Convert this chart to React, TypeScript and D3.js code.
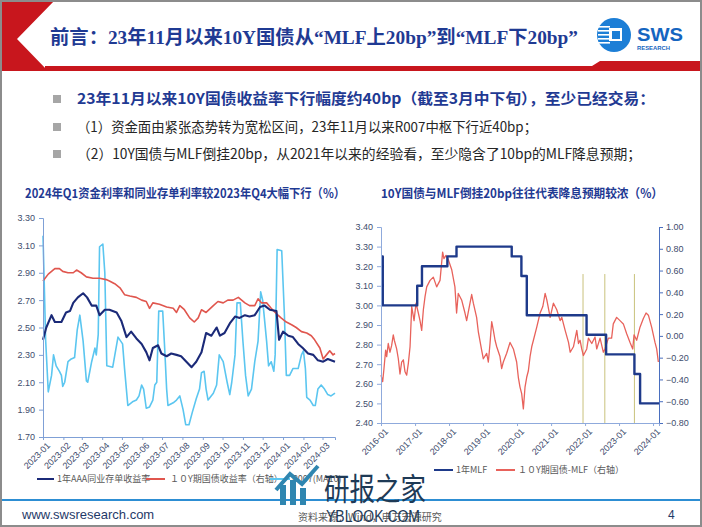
import React, { useEffect, useRef } from 'react';
import * as d3 from 'd3';

// ---- left chart: 2023-01 .. 2024-03 (%)
const ncdAAA: [string, number][] = [
  ['2023-01-01', 2.41], ['2023-01-06', 2.50], ['2023-01-14', 2.59], ['2023-01-19', 2.54],
  ['2023-01-29', 2.54], ['2023-02-05', 2.61], ['2023-02-11', 2.62], ['2023-02-16', 2.68],
  ['2023-02-23', 2.72], ['2023-03-03', 2.75], ['2023-03-09', 2.72], ['2023-03-16', 2.66],
  ['2023-03-23', 2.66], ['2023-03-28', 2.59], ['2023-04-05', 2.63], ['2023-04-12', 2.63],
  ['2023-04-23', 2.61], ['2023-04-30', 2.55], ['2023-05-08', 2.43], ['2023-05-15', 2.47],
  ['2023-05-23', 2.42], ['2023-05-31', 2.38], ['2023-06-07', 2.32], ['2023-06-12', 2.26],
  ['2023-06-17', 2.35], ['2023-06-25', 2.37], ['2023-06-30', 2.31], ['2023-07-08', 2.29],
  ['2023-07-15', 2.31], ['2023-07-23', 2.30], ['2023-07-30', 2.29], ['2023-08-07', 2.25],
  ['2023-08-15', 2.21], ['2023-08-22', 2.25], ['2023-08-30', 2.32], ['2023-09-06', 2.46],
  ['2023-09-14', 2.44], ['2023-09-22', 2.50], ['2023-09-27', 2.44], ['2023-10-04', 2.46],
  ['2023-10-12', 2.53], ['2023-10-20', 2.58], ['2023-10-27', 2.57], ['2023-11-04', 2.59],
  ['2023-11-11', 2.58], ['2023-11-19', 2.59], ['2023-11-27', 2.65], ['2023-12-04', 2.66],
  ['2023-12-12', 2.63], ['2023-12-22', 2.62], ['2023-12-26', 2.41], ['2024-01-01', 2.47],
  ['2024-01-09', 2.44], ['2024-01-16', 2.43], ['2024-01-24', 2.38], ['2024-01-31', 2.35],
  ['2024-02-08', 2.31], ['2024-02-16', 2.30], ['2024-02-23', 2.26], ['2024-03-02', 2.25],
  ['2024-03-09', 2.27], ['2024-03-20', 2.25],
];

const cgb10y: [string, number][] = [
  ['2023-01-01', 2.84], ['2023-01-09', 2.89], ['2023-01-19', 2.93], ['2023-01-26', 2.93],
  ['2023-01-31', 2.91], ['2023-02-08', 2.90], ['2023-02-16', 2.90], ['2023-02-21', 2.92],
  ['2023-02-28', 2.90], ['2023-03-08', 2.87], ['2023-03-18', 2.86], ['2023-03-28', 2.86],
  ['2023-04-07', 2.85], ['2023-04-12', 2.84], ['2023-04-20', 2.82], ['2023-04-28', 2.79],
  ['2023-05-05', 2.74], ['2023-05-13', 2.73], ['2023-05-23', 2.72], ['2023-05-31', 2.70],
  ['2023-06-07', 2.69], ['2023-06-12', 2.64], ['2023-06-17', 2.68], ['2023-06-27', 2.67],
  ['2023-07-08', 2.65], ['2023-07-18', 2.64], ['2023-07-23', 2.61], ['2023-07-28', 2.66],
  ['2023-08-04', 2.63], ['2023-08-12', 2.57], ['2023-08-19', 2.54], ['2023-08-25', 2.57],
  ['2023-08-30', 2.63], ['2023-09-06', 2.61], ['2023-09-17', 2.66], ['2023-09-24', 2.69],
  ['2023-10-02', 2.68], ['2023-10-09', 2.70], ['2023-10-17', 2.70], ['2023-10-25', 2.72],
  ['2023-11-04', 2.68], ['2023-11-11', 2.66], ['2023-11-19', 2.66], ['2023-11-24', 2.71],
  ['2023-11-29', 2.68], ['2023-12-07', 2.68], ['2023-12-14', 2.64], ['2023-12-22', 2.60],
  ['2023-12-29', 2.57], ['2024-01-06', 2.54], ['2024-01-14', 2.52], ['2024-01-21', 2.50],
  ['2024-01-29', 2.47], ['2024-02-06', 2.46], ['2024-02-13', 2.44], ['2024-02-18', 2.41],
  ['2024-02-26', 2.35], ['2024-03-02', 2.27], ['2024-03-07', 2.30], ['2024-03-12', 2.33],
  ['2024-03-17', 2.30], ['2024-03-20', 2.31],
];

const r007: [string, number][] = [
  ['2023-01-01', 3.17], ['2023-01-03', 2.80], ['2023-01-05', 2.41], ['2023-01-09', 2.03],
  ['2023-01-14', 2.15], ['2023-01-17', 2.30], ['2023-01-21', 2.22], ['2023-01-26', 2.18],
  ['2023-01-29', 2.15], ['2023-01-31', 2.07], ['2023-02-03', 2.10], ['2023-02-08', 2.25],
  ['2023-02-13', 2.27], ['2023-02-18', 2.28], ['2023-02-22', 2.48], ['2023-02-26', 2.59],
  ['2023-03-03', 2.40], ['2023-03-08', 2.11], ['2023-03-10', 2.10], ['2023-03-16', 2.25],
  ['2023-03-21', 2.35], ['2023-03-23', 2.30], ['2023-03-26', 2.45], ['2023-03-28', 3.09],
  ['2023-04-02', 3.11], ['2023-04-05', 2.90], ['2023-04-08', 2.22], ['2023-04-17', 2.21],
  ['2023-04-25', 2.43], ['2023-05-02', 2.38], ['2023-05-05', 2.20], ['2023-05-10', 1.93],
  ['2023-05-18', 1.96], ['2023-05-23', 1.97], ['2023-05-27', 2.00], ['2023-05-31', 2.08],
  ['2023-06-03', 2.05], ['2023-06-07', 1.91], ['2023-06-12', 1.92], ['2023-06-17', 1.97],
  ['2023-06-20', 2.08], ['2023-06-23', 2.10], ['2023-06-26', 2.62], ['2023-07-02', 2.62],
  ['2023-07-05', 2.35], ['2023-07-08', 2.05], ['2023-07-10', 1.93], ['2023-07-18', 1.95],
  ['2023-07-23', 1.97], ['2023-07-28', 2.00], ['2023-08-02', 1.90], ['2023-08-06', 1.79],
  ['2023-08-11', 1.79], ['2023-08-16', 1.88], ['2023-08-22', 1.98], ['2023-08-27', 2.05],
  ['2023-08-30', 2.17], ['2023-09-03', 2.18], ['2023-09-06', 2.05], ['2023-09-09', 1.97],
  ['2023-09-17', 2.02], ['2023-09-22', 2.08], ['2023-09-26', 2.30], ['2023-10-02', 2.25],
  ['2023-10-08', 2.10], ['2023-10-12', 2.01], ['2023-10-15', 2.10], ['2023-10-20', 2.30],
  ['2023-10-23', 2.68], ['2023-10-28', 2.68], ['2023-11-01', 2.40], ['2023-11-05', 2.15],
  ['2023-11-09', 2.00], ['2023-11-14', 2.05], ['2023-11-19', 2.25], ['2023-11-24', 2.40],
  ['2023-11-28', 2.76], ['2023-12-01', 2.70], ['2023-12-07', 2.40], ['2023-12-10', 2.22],
  ['2023-12-14', 2.25], ['2023-12-18', 2.18], ['2023-12-20', 2.30], ['2023-12-23', 3.07],
  ['2023-12-30', 3.06], ['2024-01-03', 2.60], ['2024-01-06', 2.15], ['2024-01-11', 2.15],
  ['2024-01-16', 2.20], ['2024-01-24', 2.20], ['2024-01-29', 2.30], ['2024-02-01', 2.33],
  ['2024-02-04', 2.20], ['2024-02-06', 1.99], ['2024-02-11', 1.97], ['2024-02-16', 1.93],
  ['2024-02-19', 1.93], ['2024-02-23', 2.05], ['2024-02-28', 2.08], ['2024-03-04', 2.05],
  ['2024-03-09', 2.01], ['2024-03-14', 2.00], ['2024-03-20', 2.02],
];

const leftTicks = [1.7, 1.9, 2.1, 2.3, 2.5, 2.7, 2.9, 3.1, 3.3];

// ---- right chart: 2016-01 .. 2024-03
const mlf1y: [string, number][] = [
  ['2016-01-01', 3.25], ['2016-01-20', 3.00], ['2017-01-24', 3.10], ['2017-03-16', 3.20],
  ['2017-12-14', 3.25], ['2018-03-22', 3.30], ['2019-11-05', 3.25], ['2020-02-17', 3.15],
  ['2020-04-15', 2.95], ['2022-01-17', 2.85], ['2022-08-15', 2.75], ['2023-06-15', 2.65],
  ['2023-08-15', 2.50], ['2024-03-05', 2.50],
];

const spread: [string, number][] = [
  ['2016-01-01', -0.36], ['2016-01-19', -0.42], ['2016-02-02', -0.30], ['2016-02-20', -0.13],
  ['2016-03-02', -0.19], ['2016-03-19', -0.07], ['2016-04-06', -0.15], ['2016-04-24', -0.09],
  ['2016-05-12', 0.01], ['2016-05-23', -0.04], ['2016-06-17', -0.12], ['2016-07-05', -0.21],
  ['2016-07-23', -0.35], ['2016-08-10', -0.24], ['2016-08-28', -0.22], ['2016-09-15', -0.33],
  ['2016-10-03', -0.36], ['2016-10-21', -0.25], ['2016-11-08', -0.10], ['2016-11-26', 0.27],
  ['2016-12-21', 0.14], ['2017-01-11', 0.30], ['2017-02-05', 0.21], ['2017-02-23', 0.14],
  ['2017-03-13', 0.05], ['2017-03-31', 0.24], ['2017-04-18', 0.36], ['2017-05-06', 0.45],
  ['2017-06-11', 0.51], ['2017-07-16', 0.54], ['2017-08-21', 0.45], ['2017-09-26', 0.51],
  ['2017-10-24', 0.77], ['2017-11-07', 0.71], ['2017-11-29', 0.74], ['2017-12-24', 0.70],
  ['2018-01-29', 0.61], ['2018-03-05', 0.45], ['2018-03-23', 0.21], ['2018-04-10', 0.39],
  ['2018-05-16', 0.33], ['2018-06-21', 0.21], ['2018-07-09', 0.14], ['2018-08-14', 0.30],
  ['2018-09-01', 0.38], ['2018-09-19', 0.30], ['2018-10-24', 0.17], ['2018-11-11', 0.04],
  ['2018-12-17', -0.13], ['2019-01-04', -0.21], ['2019-02-09', -0.16], ['2019-02-27', -0.24],
  ['2019-03-17', -0.07], ['2019-04-04', 0.13], ['2019-04-22', 0.05], ['2019-05-10', -0.04],
  ['2019-05-28', -0.10], ['2019-07-02', -0.19], ['2019-07-20', -0.30], ['2019-08-07', -0.24],
  ['2019-09-12', -0.16], ['2019-10-18', -0.06], ['2019-11-05', -0.09], ['2019-11-23', -0.12],
  ['2019-12-28', -0.24], ['2020-01-15', -0.38], ['2020-02-02', -0.47], ['2020-02-20', -0.53],
  ['2020-03-09', -0.67], ['2020-03-27', -0.47], ['2020-04-14', -0.38], ['2020-05-02', -0.32],
  ['2020-05-20', -0.19], ['2020-06-07', -0.10], ['2020-06-25', -0.04], ['2020-07-31', 0.08],
  ['2020-09-05', 0.21], ['2020-10-04', 0.27], ['2020-10-29', 0.39], ['2020-11-16', 0.33],
  ['2020-12-22', 0.17], ['2021-01-26', 0.30], ['2021-03-03', 0.24], ['2021-04-08', 0.14],
  ['2021-04-26', 0.17], ['2021-06-01', 0.05], ['2021-07-07', -0.06], ['2021-07-25', -0.15],
  ['2021-08-29', -0.10], ['2021-10-04', 0.05], ['2021-10-22', -0.07], ['2021-11-08', -0.04],
  ['2021-11-26', -0.12], ['2021-12-14', -0.18], ['2022-01-19', -0.12], ['2022-02-06', -0.02],
  ['2022-03-14', -0.07], ['2022-04-18', -0.01], ['2022-05-06', -0.12], ['2022-06-11', -0.02],
  ['2022-07-16', -0.15], ['2022-08-03', -0.12], ['2022-09-08', -0.02], ['2022-10-13', -0.02],
  ['2022-10-31', 0.11], ['2022-12-06', 0.17], ['2023-01-11', 0.14], ['2023-02-16', 0.11],
  ['2023-03-24', 0.02], ['2023-04-29', -0.06], ['2023-05-28', -0.12], ['2023-06-11', 0.01],
  ['2023-07-09', -0.04], ['2023-08-14', 0.08], ['2023-09-19', 0.16], ['2023-10-18', 0.21],
  ['2023-11-12', 0.19], ['2023-12-17', 0.08], ['2024-01-22', -0.06], ['2024-02-09', -0.12],
  ['2024-02-27', -0.24],
];

const markerDates = ['2021-12-10', '2022-08-01', '2023-06-15'];
const rightLeftTicks = [2.4, 2.5, 2.6, 2.7, 2.8, 2.9, 3.0, 3.1, 3.2, 3.3, 3.4];
const rightRightTicks = [-0.8, -0.6, -0.4, -0.2, 0, 0.2, 0.4, 0.6, 0.8, 1.0];

const cjk = "'Noto Sans CJK SC', 'Noto Sans', sans-serif";
const latin = "'Liberation Sans', Arial, sans-serif";
const navyText = '#1F3A93';

const parse = d3.timeParse('%Y-%m-%d');

export default function App() {
  const ref = useRef<SVGSVGElement>(null);

  useEffect(() => {
    const svg = d3.select(ref.current);
    svg.selectAll('.chart').remove();

    const styleAxis = (g: any, color: string) => {
      g.select('.domain').attr('stroke', color).attr('stroke-width', 1);
      g.selectAll('.tick line').attr('stroke', color);
      g.selectAll('.tick text')
          .attr('fill', '#3E4C6D')
          .style('font-family', latin)
          .style('font-size', '9px');
    };

    const drawLine = (g: any, data: [string, number][], x: any, y: any,
        color: string, w: number, curve: any = d3.curveLinear) => {
      const line = d3.line<[string, number]>()
          .x((d) => x(parse(d[0])))
          .y((d) => y(d[1]))
          .curve(curve);
      g.append('path')
          .attr('d', line(data))
          .attr('fill', 'none')
          .attr('stroke', color)
          .attr('stroke-width', w)
          .attr('stroke-linejoin', 'round');
    };

    // ===== left chart
    const L = svg.append('g').attr('class', 'chart');
    const x1 = d3.scaleTime()
        .domain([parse('2023-01-01')!, parse('2024-03-20')!])
        .range([43, 335]);
    const y1 = d3.scaleLinear().domain([1.7, 3.3]).range([437, 218]);

    drawLine(L, r007, x1, y1, '#5BC6F0', 1.6);
    drawLine(L, cgb10y, x1, y1, '#E0564E', 1.6);
    drawLine(L, ncdAAA, x1, y1, '#1B2A78', 2.1);

    const ly = L.append('g').attr('transform', 'translate(43,0)')
        .call(d3.axisLeft(y1).tickValues(leftTicks).tickSize(4).tickPadding(4)
            .tickFormat(d3.format('.2f')));
    styleAxis(ly, '#7FA0D6');

    const months = d3.timeMonth.range(parse('2023-01-01')!, parse('2024-03-02')!);
    const lx = L.append('g').attr('transform', 'translate(0,437)')
        .call(d3.axisBottom(x1).tickValues(months).tickSize(3)
            .tickFormat(d3.timeFormat('%Y-%m') as any));
    styleAxis(lx, '#7FA0D6');
    lx.selectAll('.tick text')
        .attr('text-anchor', 'end')
        .attr('dy', 0)
        .attr('transform', 'translate(3,5) rotate(-45)');

    // ===== right chart
    const R = svg.append('g').attr('class', 'chart');
    const x2 = d3.scaleTime()
        .domain([parse('2016-01-01')!, parse('2024-03-05')!])
        .range([381, 659]);
    const y2 = d3.scaleLinear().domain([2.4, 3.4]).range([423, 227]);
    const y3 = d3.scaleLinear().domain([-0.8, 1.0]).range([423, 227]);

    markerDates.forEach((d) => {
      R.append('line')
          .attr('x1', x2(parse(d)!)).attr('x2', x2(parse(d)!))
          .attr('y1', y2(3.16)).attr('y2', y2(2.4))
          .attr('stroke', '#C9C27C').attr('stroke-width', 1);
    });

    drawLine(R, spread, x2, y3, '#E8625B', 1.3);
    drawLine(R, mlf1y, x2, y2, '#1E3A8A', 2.4, d3.curveStepAfter);

    const ry = R.append('g').attr('transform', 'translate(381,0)')
        .call(d3.axisLeft(y2).tickValues(rightLeftTicks).tickSize(4).tickPadding(4)
            .tickFormat(d3.format('.2f')));
    styleAxis(ry, '#8FAADC');

    const rr = R.append('g').attr('transform', 'translate(659,0)')
        .call(d3.axisRight(y3).tickValues(rightRightTicks).tickSize(4).tickPadding(3)
            .tickFormat(d3.format('.2f')));
    styleAxis(rr, '#4A6FBF');

    const years = d3.timeYear.range(parse('2016-01-01')!, parse('2024-01-02')!);
    const rx = R.append('g').attr('transform', 'translate(0,423)')
        .call(d3.axisBottom(x2).tickValues(years).tickSize(3)
            .tickFormat(d3.timeFormat('%Y-%m') as any));
    styleAxis(rx, '#8FAADC');
    rx.selectAll('.tick text')
        .attr('text-anchor', 'end')
        .attr('dy', 0)
        .attr('transform', 'translate(3,5) rotate(-45)');
  }, []);

  const bullet = (y: number) => (
    <rect x={53} y={y - 4} width={8} height={8} fill="#A6A6A6" />
  );

  return (
    <div style={{ position: 'fixed', left: 0, top: 0 }}>
      <svg ref={ref} width={702} height={527} style={{ display: 'block', background: '#fff' }}>
        {/* header */}
        <polygon points="0,0 55,0 17,39 48,71 0,71" fill="#C8161D" />
        <polygon points="45,66 592,66 600,61 702,61 702,71 45,71" fill="#C8161D" />
        <text x={50} y={44} fontSize={19} fontWeight="bold" fill={navyText}
          fontFamily={"'Liberation Serif', 'Noto Sans CJK SC', serif"}
          textLength={528} lengthAdjust="spacingAndGlyphs">
          前言：23年11月以来10Y国债从“MLF上20bp”到“MLF下20bp”
        </text>

        {/* logo */}
        <circle cx={614} cy={35} r={17} fill="#1C7ED6" />
        {[26, 30, 34, 38, 42].map((yy) => (
          <rect key={yy} x={598} y={yy} width={12} height={1.6} fill="#fff" />
        ))}
        <rect x={609} y={28} width={13} height={13} fill="#fff" />
        <rect x={612} y={31} width={8} height={8} fill="#1C7ED6" />
        <text x={637} y={41} fontSize={19} fontWeight="bold" fill="#1565C0"
          fontFamily={latin} textLength={46} lengthAdjust="spacingAndGlyphs">SWS</text>
        <text x={637} y={50} fontSize={5.5} fontWeight="bold" fill="#1565C0"
          fontFamily={latin} textLength={33} lengthAdjust="spacingAndGlyphs">RESEARCH</text>

        {/* bullets */}
        {bullet(99)}
        {bullet(127)}
        {bullet(154)}
        <text x={77} y={104} fontSize={15} fontWeight="bold" fill={navyText}
          fontFamily={cjk} textLength={578} lengthAdjust="spacingAndGlyphs">
          23年11月以来10Y国债收益率下行幅度约40bp（截至3月中下旬），至少已经交易：
        </text>
        <text x={77} y={132} fontSize={14} fill="#262626"
          fontFamily={cjk} textLength={460} lengthAdjust="spacingAndGlyphs">
          （1）资金面由紧张态势转为宽松区间，23年11月以来R007中枢下行近40bp；
        </text>
        <text x={77} y={159} fontSize={14} fill="#262626"
          fontFamily={cjk} textLength={564} lengthAdjust="spacingAndGlyphs">
          （2）10Y国债与MLF倒挂20bp，从2021年以来的经验看，至少隐含了10bp的MLF降息预期；
        </text>

        {/* chart titles */}
        <text x={25} y={198} fontSize={12.5} fontWeight="bold" fill={navyText}
          fontFamily={cjk} textLength={320} lengthAdjust="spacingAndGlyphs">
          2024年Q1资金利率和同业存单利率较2023年Q4大幅下行（%）
        </text>
        <text x={381} y={198} fontSize={12.5} fontWeight="bold" fill={navyText}
          fontFamily={cjk} textLength={282} lengthAdjust="spacingAndGlyphs">
          10Y国债与MLF倒挂20bp往往代表降息预期较浓（%）
        </text>

        {/* left legend */}
        <g fontFamily={cjk} fontSize={9} fill="#595959">
          <line x1={37} x2={54} y1={479} y2={479} stroke="#1B2A78" strokeWidth={2} />
          <text x={57} y={482}>1年AAA同业存单收益率</text>
          <line x1={146} x2={165} y1={479} y2={479} stroke="#E0564E" strokeWidth={2} />
          <text x={170} y={482}>１０Y期国债收益率（右轴）</text>
          <line x1={270} x2={290} y1={479} y2={479} stroke="#5BC6F0" strokeWidth={2} />
          <text x={292} y={482}>R007(MA10)</text>
        </g>

        {/* right legend */}
        <g fontFamily={cjk} fontSize={9} fill="#595959">
          <line x1={434} x2={453} y1={470} y2={470} stroke="#1E3A8A" strokeWidth={2} />
          <text x={456} y={473}>1年MLF</text>
          <line x1={496} x2={515} y1={470} y2={470} stroke="#E8625B" strokeWidth={2} />
          <text x={518} y={473}>１０Y期国债-MLF（右轴）</text>
        </g>

        {/* footer */}
        <line x1={0} x2={702} y1={500} y2={500} stroke="#2D8ED3" strokeWidth={2} />
        <text x={22} y={519} fontSize={13} fill="#1F3A68" fontFamily={latin}>www.swsresearch.com</text>
        <text x={668} y={519} fontSize={12} fill="#1F3A68" fontFamily={latin}>4</text>
        <text x={298} y={521} fontSize={10} fill="#595959" fontFamily={cjk}>资料来源：Wind，申万宏源研究</text>

        {/* watermark */}
        <g fill="#2F86B0">
          <rect x={280} y={485} width={6} height={20} />
          <rect x={290} y={480} width={6} height={25} />
          <rect x={300} y={488} width={6} height={17} />
        </g>
        <polyline points="276,490 290,474 302,484 318,466" fill="none" stroke="#2F86B0" strokeWidth={4} />
        <text x={324} y={500} fontSize={31} fill="#1E3A56" fontFamily={cjk}
          textLength={102} lengthAdjust="spacingAndGlyphs">研报之家</text>
        <text x={326} y={522} fontSize={17} fill="#1E3A56" fontFamily={latin}
          textLength={94} lengthAdjust="spacingAndGlyphs">YBLOOK.COM</text>

        {/* frame */}
        <rect x={1} y={1} width={700} height={525} fill="none" stroke="#8C8C8C" strokeWidth={2} />
      </svg>
    </div>
  );
}
